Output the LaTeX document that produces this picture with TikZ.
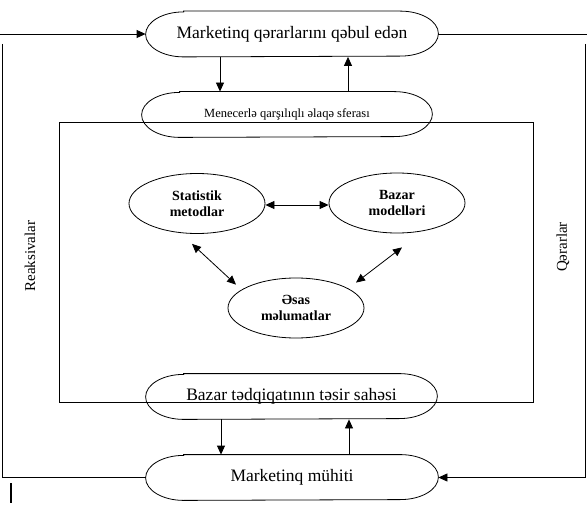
\documentclass[tikz,border=0pt]{standalone}
\usepackage{fontspec}
\setmainfont{Liberation Serif}
\usetikzlibrary{shapes.geometric,arrows.meta}

\begin{document}
\begin{tikzpicture}[x=1pt,y=-1pt,line width=0.8pt,
  stad/.style={rectangle,minimum width=292pt,minimum height=45pt,inner sep=0pt,
    font=\fontsize{17.5}{20}\selectfont},
  oval/.style={draw,ellipse,minimum width=136pt,minimum height=60pt,inner sep=0pt,align=center,
    font=\bfseries\fontsize{14}{16}\selectfont},
  side/.style={rotate=90,font=\fontsize{15}{17}\selectfont},
  arr/.style={-{Triangle[length=9pt,width=8pt]}},
  dbl/.style={{Triangle[length=9pt,width=8pt]}-{Triangle[length=9pt,width=8pt]}}]
\path[use as bounding box] (0,0) rectangle (587,508);
% outer ovals
\node[stad] (mkq) at (292,34) {Marketinq qərarlarını qəbul edən};
\node[stad,minimum width=290pt,font=\fontsize{12.5}{14}\selectfont] (men) at (287,114.5)
  {Menecerlə qarşılıqlı əlaqə sferası};
\node[stad,minimum width=291pt] (bts) at (291.5,396.5) {Bazar tədqiqatının təsir sahəsi};
\node[stad] (mmh) at (292,477.5) {Marketinq mühiti};
\foreach \n in {mkq,men,bts,mmh}
  \draw ([xshift=38pt]\n.north west) -- ([xshift=-38pt]\n.north east)
    arc[start angle=90,end angle=-90,x radius=38pt,y radius=22.5pt]
    -- ([xshift=38pt]\n.south west)
    arc[start angle=270,end angle=90,x radius=38pt,y radius=22.5pt] -- cycle;
\node[draw,minimum width=474pt,minimum height=280pt,inner sep=0pt] (box) at (296,262) {};
% inner ovals
\node[oval] (stat) at (197,203.5) {Statistik\\metodlar};
\node[oval] (bzm) at (397,203) {Bazar\\modelləri};
\node[oval] (esas) at (296,308) {Əsas\\məlumatlar};
\draw[dbl] ([yshift=-1.5pt]stat.east) -- ([yshift=-1.5pt]stat.east -| bzm.west);
\draw[dbl] ([shift={(-5,10)}]stat.south) -- ([shift={(-60,7)}]esas.north);
\draw[dbl] ([shift={(60,5)}]esas.north) -- ([shift={(5,14)}]bzm.south);
% vertical links
\draw[arr] ([xshift=-72pt]mkq.south) -- ([xshift=-72pt]mkq.south |- men.north);
\draw[arr] ([xshift=56pt]mkq.south |- men.north) -- ([xshift=56pt]mkq.south);
\draw[arr] ([xshift=-70.5pt]bts.south) -- ([xshift=-70.5pt]bts.south |- mmh.north);
\draw[arr] ([xshift=57.5pt]bts.south |- mmh.north) -- ([xshift=57.5pt]bts.south);
% feedback loop
\coordinate (tl) at (0,34);
\coordinate (tr) at (587,34);
\coordinate (lt) at (2,44);
\coordinate (rt) at (585,44);
\draw[arr] (tl) -- (mkq.west);
\draw (mkq.east) -- (tr);
\draw (lt) |- (mmh.west);
\draw[arr] (rt) |- (mmh.east);
\node[side] (reak) at (30,256) {Reaksivalar};
\node[side] (qer) at (563,247) {Qərarlar};
\draw[line width=1.5pt] (11,483) -- (11,503);
\end{tikzpicture}
\end{document}
